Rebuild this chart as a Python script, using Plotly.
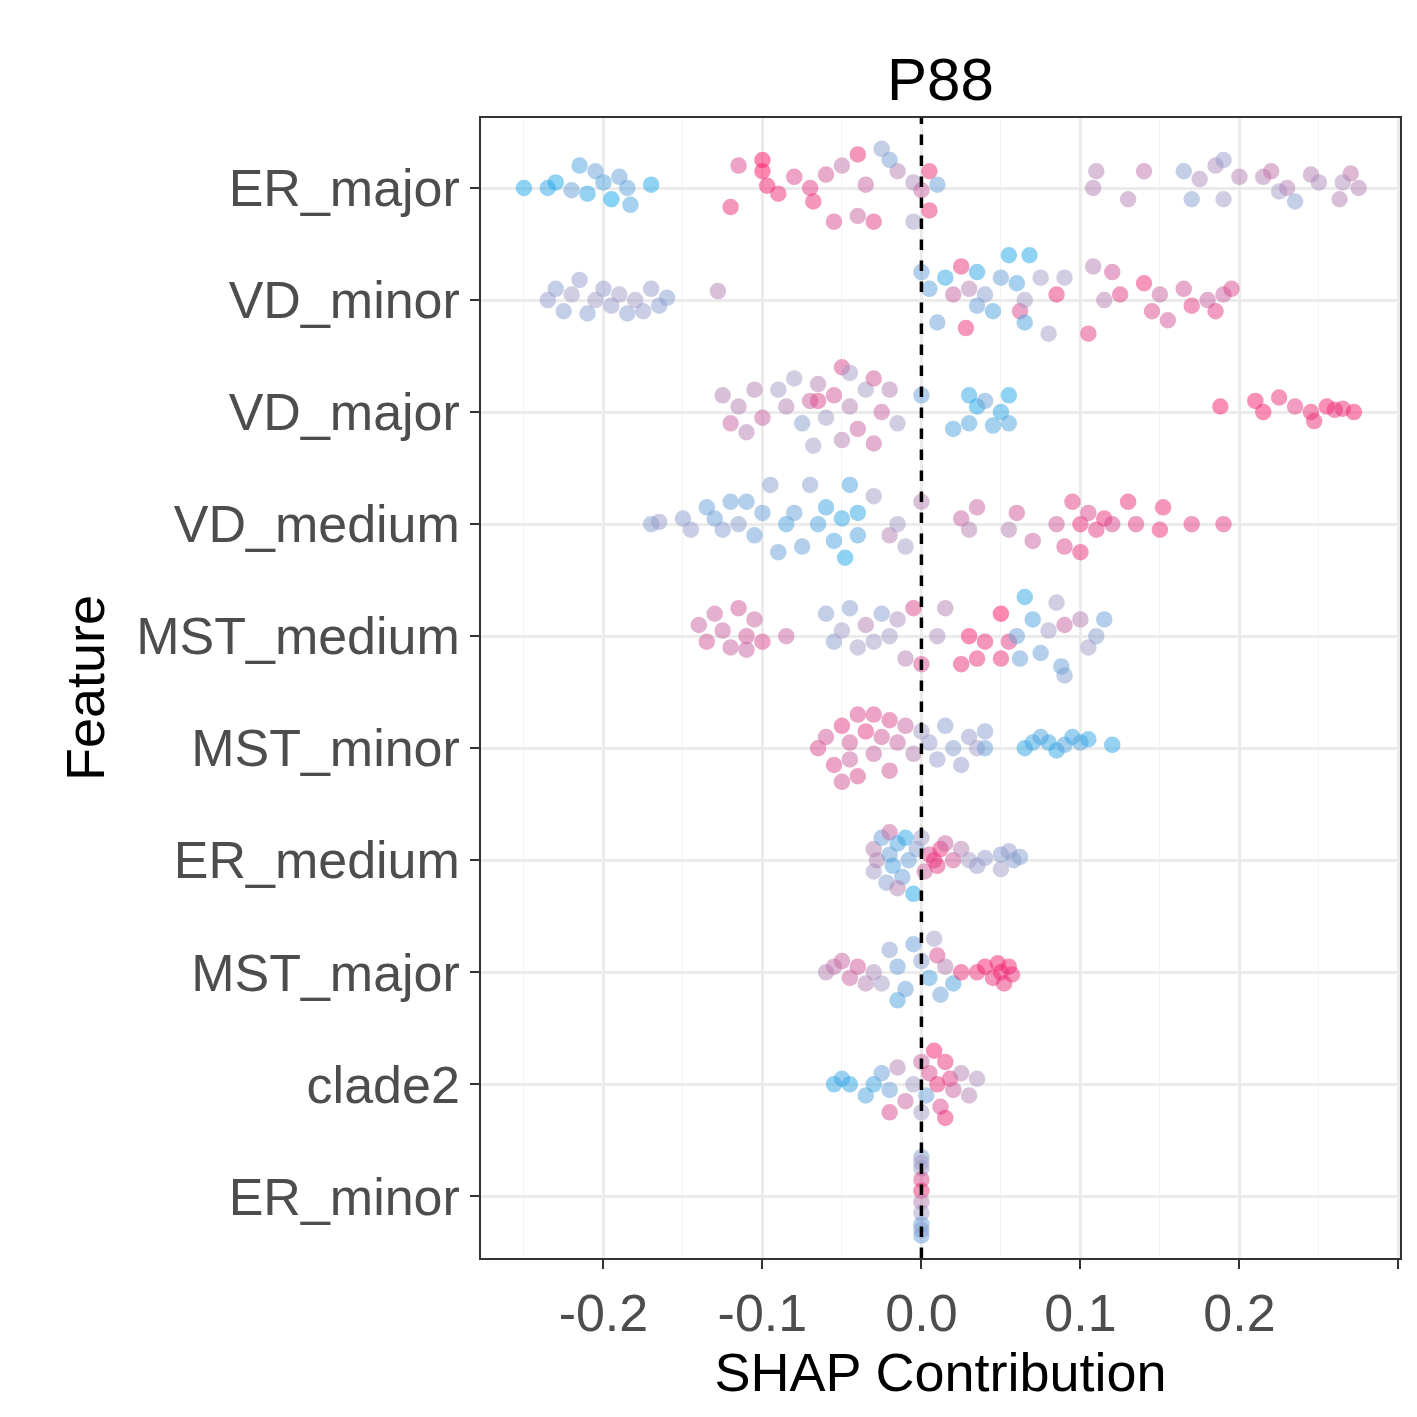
import plotly.graph_objects as go

features = ["ER_minor", "clade2", "MST_major", "ER_medium", "MST_minor",
            "MST_medium", "VD_medium", "VD_major", "VD_minor", "ER_major"]

# (shap value, vertical jitter, feature value 0..1)
er_major = [(-0.25,0.0,0.05),(-0.235,0.0,0.1),(-0.23,0.05,0.05),(-0.215,0.2,0.2),(-0.21,-0.05,0.1),
            (-0.205,0.15,0.3),(-0.2,0.05,0.2),(-0.195,-0.1,0.0),(-0.19,0.1,0.3),(-0.185,0.0,0.25),
            (-0.183,-0.15,0.2),(-0.17,0.03,0.05),(-0.22,-0.02,0.3),(-0.12,-0.17,0.9),(-0.115,0.2,0.8),
            (-0.1,0.25,1),(-0.1,0.15,1),(-0.097,0.02,0.95),(-0.09,-0.05,0.9),(-0.08,0.1,0.8),
            (-0.07,0.0,0.85),(-0.068,-0.12,0.9),(-0.06,0.12,0.75),(-0.055,-0.3,0.8),(-0.05,0.2,0.65),
            (-0.04,0.3,0.9),(-0.04,-0.25,0.7),(-0.035,0.03,0.7),(-0.03,-0.3,0.85),(-0.015,0.15,0.6),
            (-0.005,0.05,0.55),(0.0,-0.02,0.7),(-0.02,0.25,0.35),(-0.025,0.35,0.4),(-0.005,-0.3,0.5),
            (0.005,0.15,0.9),(0.01,0.03,0.3),(0.005,-0.2,0.9),(0.108,0.0,0.6),(0.11,0.15,0.6),
            (0.13,-0.1,0.6),(0.14,0.15,0.65),(0.165,0.15,0.4),(0.17,-0.1,0.4),(0.175,0.08,0.55),
            (0.19,-0.1,0.5),(0.185,0.2,0.55),(0.19,0.25,0.45),(0.2,0.1,0.6),(0.215,0.1,0.6),
            (0.22,0.15,0.65),(0.225,-0.03,0.5),(0.23,0.0,0.6),(0.235,-0.12,0.4),(0.245,0.12,0.6),
            (0.25,0.05,0.55),(0.263,-0.1,0.6),(0.27,0.13,0.65),(0.275,0.0,0.6),(0.265,0.05,0.55)]
vd_minor = [(-0.235,0.0,0.45),(-0.23,0.1,0.4),(-0.225,-0.1,0.4),(-0.22,0.05,0.5),(-0.215,0.18,0.45),
            (-0.21,-0.12,0.4),(-0.205,0.0,0.5),(-0.2,0.1,0.45),(-0.195,-0.05,0.45),(-0.19,0.05,0.5),
            (-0.185,-0.12,0.4),(-0.18,0.0,0.5),(-0.17,0.1,0.45),(-0.165,-0.05,0.4),(-0.16,0.02,0.4),
            (-0.175,-0.1,0.45),(-0.128,0.08,0.6),(0.0,0.25,0.3),(0.005,0.1,0.25),(0.01,-0.2,0.3),
            (0.015,0.2,0.1),(0.02,0.05,0.7),(0.025,0.3,0.9),(0.028,-0.25,0.9),(0.03,0.1,0.6),
            (0.035,0.25,0.1),(0.035,-0.05,0.3),(0.04,0.05,0.4),(0.045,-0.1,0.2),(0.05,0.2,0.3),
            (0.055,0.4,0.05),(0.06,0.15,0.2),(0.062,-0.1,0.8),(0.065,0.0,0.5),(0.065,-0.2,0.2),
            (0.068,0.4,0.05),(0.075,0.2,0.5),(0.08,-0.3,0.5),(0.085,0.05,0.9),(0.09,0.2,0.5),
            (0.105,-0.3,0.85),(0.108,0.3,0.6),(0.115,0.0,0.6),(0.12,0.25,0.75),(0.125,0.05,0.85),
            (0.14,0.15,0.9),(0.145,-0.1,0.8),(0.15,0.05,0.7),(0.155,-0.18,0.75),(0.165,0.1,0.75),
            (0.17,-0.05,0.85),(0.18,0.0,0.7),(0.185,-0.1,0.85),(0.19,0.05,0.7),(0.195,0.1,0.8)]
vd_major = [(-0.125,0.15,0.6),(-0.12,-0.1,0.7),(-0.115,0.05,0.6),(-0.11,-0.18,0.6),(-0.105,0.2,0.6),
            (-0.1,-0.05,0.7),(-0.09,0.2,0.5),(-0.085,0.05,0.6),(-0.08,0.3,0.5),(-0.075,-0.1,0.4),
            (-0.07,0.1,0.7),(-0.068,-0.3,0.5),(-0.065,0.25,0.6),(-0.06,-0.05,0.5),(-0.055,0.15,0.75),
            (-0.05,0.4,0.8),(-0.05,-0.25,0.6),(-0.045,0.05,0.6),(-0.04,-0.15,0.7),(-0.035,0.2,0.5),
            (-0.03,0.3,0.75),(-0.025,0.0,0.7),(-0.02,0.2,0.6),(-0.015,-0.1,0.5),(-0.065,0.1,0.8),
            (-0.045,0.35,0.5),(-0.03,-0.28,0.7),(0.0,0.15,0.3),(0.02,-0.15,0.2),(0.03,0.15,0.1),
            (0.03,-0.1,0.2),(0.035,0.05,0.05),(0.04,0.1,0.3),(0.045,-0.12,0.2),(0.05,0.0,0.1),
            (0.055,0.15,0.05),(0.055,-0.1,0.2),(0.188,0.05,0.95),(0.21,0.1,0.95),(0.215,0.0,0.95),
            (0.225,0.13,0.9),(0.235,0.05,0.85),(0.245,0.0,0.9),(0.247,-0.08,0.9),(0.255,0.05,0.95),
            (0.26,0.02,0.9),(0.265,0.03,0.9),(0.272,0.0,0.95)]
vd_medium = [(-0.17,0.0,0.4),(-0.165,0.02,0.45),(-0.15,0.05,0.4),(-0.145,-0.05,0.45),(-0.135,0.15,0.3),
             (-0.13,0.05,0.3),(-0.125,-0.05,0.4),(-0.12,0.2,0.3),(-0.115,0.0,0.4),(-0.11,0.2,0.3),
             (-0.105,-0.1,0.3),(-0.1,0.1,0.3),(-0.095,0.35,0.4),(-0.09,-0.25,0.3),(-0.085,0.0,0.2),
             (-0.08,0.1,0.3),(-0.075,-0.2,0.3),(-0.07,0.35,0.4),(-0.065,0.0,0.2),(-0.06,0.15,0.15),
             (-0.055,-0.15,0.2),(-0.05,0.05,0.1),(-0.048,-0.3,0.05),(-0.045,0.35,0.2),(-0.04,0.1,0.1),
             (-0.04,-0.1,0.2),(-0.03,0.25,0.5),(-0.02,-0.1,0.6),(-0.015,0.0,0.5),(-0.01,-0.2,0.5),
             (0.0,0.2,0.6),(0.025,0.05,0.7),(0.03,-0.05,0.6),(0.035,0.15,0.7),(0.055,-0.05,0.6),
             (0.06,0.1,0.75),(0.07,-0.15,0.7),(0.085,0.0,0.75),(0.09,-0.2,0.8),(0.095,0.2,0.85),
             (0.1,0.0,0.9),(0.1,-0.25,0.9),(0.105,0.1,0.8),(0.11,-0.05,0.85),(0.115,0.05,0.9),
             (0.12,0.0,0.8),(0.13,0.2,0.9),(0.135,0.0,0.85),(0.15,-0.05,0.9),(0.152,0.15,0.9),
             (0.17,0.0,0.85),(0.19,0.0,0.85)]
mst_medium = [(-0.14,0.1,0.7),(-0.135,-0.05,0.75),(-0.13,0.2,0.7),(-0.125,0.05,0.7),(-0.12,-0.1,0.7),
              (-0.115,0.25,0.75),(-0.11,0.0,0.75),(-0.105,0.15,0.7),(-0.1,-0.05,0.8),(-0.11,-0.12,0.7),
              (-0.085,0.0,0.7),(-0.06,0.2,0.4),(-0.055,-0.05,0.4),(-0.05,0.05,0.5),(-0.045,0.25,0.4),
              (-0.04,-0.1,0.5),(-0.035,0.1,0.6),(-0.03,-0.05,0.5),(-0.025,0.2,0.4),(-0.02,0.0,0.5),
              (-0.015,0.15,0.55),(-0.01,-0.2,0.6),(-0.005,0.25,0.8),(0.0,-0.25,0.8),(0.01,0.0,0.55),
              (0.015,0.25,0.6),(0.025,-0.25,0.9),(0.03,0.0,0.95),(0.035,-0.2,0.9),(0.04,-0.05,0.9),
              (0.05,0.2,1.0),(0.05,-0.2,0.9),(0.055,-0.05,0.85),(0.06,0.0,0.3),(0.062,-0.2,0.3),
              (0.065,0.35,0.1),(0.07,0.15,0.2),(0.075,-0.15,0.3),(0.08,0.05,0.5),(0.085,0.3,0.5),
              (0.09,0.1,0.7),(0.09,-0.35,0.4),(0.1,0.15,0.6),(0.105,-0.1,0.5),(0.11,0.0,0.4),
              (0.115,0.15,0.3),(0.088,-0.27,0.3)]
mst_minor = [(-0.065,0.0,0.8),(-0.06,0.1,0.75),(-0.055,-0.15,0.8),(-0.05,0.2,0.85),(-0.045,0.05,0.75),
             (-0.045,-0.1,0.7),(-0.04,-0.25,0.8),(-0.035,0.15,0.85),(-0.03,0.3,0.8),(-0.03,-0.05,0.7),
             (-0.025,0.1,0.75),(-0.02,0.25,0.8),(-0.02,-0.2,0.75),(-0.015,0.05,0.7),(-0.01,0.2,0.7),
             (-0.005,-0.05,0.6),(0.0,0.15,0.5),(0.005,0.05,0.45),(0.01,-0.1,0.45),(0.015,0.2,0.4),
             (0.02,0.0,0.4),(0.025,-0.15,0.45),(0.03,0.1,0.45),(0.035,0.0,0.5),(0.04,0.15,0.4),
             (0.04,0.0,0.3),(0.065,0.0,0.1),(0.07,0.05,0.15),(0.075,0.1,0.2),(0.08,0.05,0.15),
             (0.085,-0.02,0.1),(0.09,0.03,0.2),(0.095,0.1,0.15),(0.1,0.05,0.2),(0.105,0.08,0.1),
             (0.12,0.03,0.1),(-0.05,-0.3,0.75),(-0.04,0.3,0.8)]
er_medium = [(-0.03,0.1,0.6),(-0.03,-0.1,0.5),(-0.028,0.0,0.6),(-0.025,0.2,0.3),(-0.022,-0.2,0.4),
             (-0.02,0.25,0.7),(-0.02,0.05,0.3),(-0.018,-0.05,0.2),(-0.015,0.15,0.2),(-0.012,-0.15,0.3),
             (-0.01,0.2,0.1),(-0.008,0.0,0.3),(-0.005,-0.3,0.05),(-0.003,0.1,0.4),(0.0,0.2,0.5),
             (0.002,-0.1,0.7),(0.005,0.05,0.8),(0.008,0.0,0.9),(0.01,-0.05,0.85),(0.012,0.1,0.9),
             (0.015,0.15,0.7),(0.02,0.0,0.75),(0.025,0.1,0.6),(0.03,0.0,0.5),(0.035,-0.05,0.45),
             (0.04,0.02,0.45),(0.05,0.05,0.4),(0.055,0.08,0.45),(0.058,0.0,0.4),(0.062,0.03,0.4),
             (0.05,-0.08,0.5),(-0.015,-0.25,0.6)]
mst_major = [(-0.06,0.0,0.6),(-0.055,0.05,0.65),(-0.05,0.1,0.7),(-0.045,-0.05,0.7),(-0.04,0.05,0.75),
             (-0.035,-0.1,0.6),(-0.03,0.0,0.55),(-0.025,-0.1,0.5),(-0.02,0.2,0.4),(-0.015,0.05,0.3),
             (-0.01,-0.15,0.3),(-0.005,0.25,0.3),(0.0,0.1,0.4),(0.005,-0.05,0.2),(0.01,0.15,0.8),
             (0.012,-0.2,0.3),(0.015,0.05,0.6),(0.02,-0.1,0.2),(0.008,0.3,0.5),(-0.015,-0.25,0.2),
             (0.035,0.0,0.9),(0.04,0.05,0.95),(0.045,-0.05,0.9),(0.048,0.08,0.95),(0.05,0.0,0.95),
             (0.052,-0.1,0.9),(0.055,0.05,0.95),(0.057,-0.02,0.9),(0.025,0.0,0.9)]
clade2 = [(-0.055,0.0,0.1),(-0.05,0.05,0.15),(-0.045,0.0,0.1),(-0.035,-0.1,0.2),(-0.03,0.0,0.15),
          (-0.025,0.1,0.3),(-0.02,-0.05,0.3),(-0.015,0.15,0.6),(-0.01,-0.15,0.7),(-0.005,0.0,0.5),
          (0.0,0.2,0.7),(0.003,-0.1,0.3),(0.005,0.1,0.8),(0.008,0.3,0.95),(0.01,0.0,0.9),
          (0.012,-0.2,0.8),(0.015,0.2,0.9),(0.018,0.05,0.85),(0.02,-0.05,0.7),(0.025,0.1,0.6),
          (0.03,-0.1,0.6),(0.035,0.05,0.55),(-0.02,-0.25,0.8),(0.0,-0.25,0.5),(0.015,-0.3,0.9)]
er_minor = [(0.0,0.35,0.4),(0.0,0.25,0.45),(0.0,0.15,0.8),(0.0,0.05,0.9),(0.0,-0.05,0.6),
            (0.0,-0.15,0.5),(0.0,-0.25,0.3),(0.0,-0.35,0.3),(0.0,0.3,0.5),(0.0,-0.3,0.4)]

rows = [er_minor, clade2, mst_major, er_medium, mst_minor,
        mst_medium, vd_medium, vd_major, vd_minor, er_major]

xs, ys, cs = [], [], []
for i, pts in enumerate(rows):
    for x, j, c in pts:
        xs.append(x)
        ys.append(i + j)
        cs.append(c)

scale = [[0, "#12A9EF"], [0.5, "#A59CC9"], [1, "#FF1466"]]
fig = go.Figure(go.Scatter(
    x=xs, y=ys, mode="markers", cliponaxis=True,
    marker=dict(size=14, color=cs, cmin=0, cmax=1, opacity=0.5, colorscale=scale,
                line=dict(width=2.5, color=cs, cmin=0, cmax=1, colorscale=scale))))

fig.add_shape(type="line", x0=0, x1=0, y0=0, y1=1, yref="paper",
              line=dict(color="black", width=3.5, dash="dash"))

fig.update_layout(
    width=1417, height=1417, plot_bgcolor="white", paper_bgcolor="white",
    margin=dict(l=473, r=25, t=110, b=167, autoexpand=False), showlegend=False,
    font=dict(family="Liberation Sans, Arial", size=52, color="#4d4d4d"),
    title=dict(text="P88", x=0.658, xanchor="center", y=0.965, font=dict(size=60, color="black")))
fig.update_xaxes(range=[-0.277, 0.301], tickvals=[-0.2, -0.1, 0, 0.1, 0.2, 0.3],
                 ticktext=["-0.2", "-0.1", "0.0", "0.1", "0.2", "0.3"], automargin=False,
                 gridcolor="#ebebeb", gridwidth=2.5, zeroline=False,
                 minor=dict(dtick=0.05, tick0=0, gridcolor="#f3f3f3", gridwidth=1.2, showgrid=True),
                 ticks="outside", ticklen=9, tickwidth=2, tickcolor="#333",
                 showline=True, linecolor="#333", linewidth=1.5, mirror=True,
                 title=dict(text="SHAP Contribution", font=dict(color="black", size=54), standoff=6))
fig.update_yaxes(range=[-0.55, 9.625], tickvals=list(range(10)), ticktext=features, automargin=False,
                 gridcolor="#ebebeb", gridwidth=2.5, zeroline=False,
                 ticks="outside", ticklen=9, tickwidth=2, tickcolor="#333",
                 showline=True, linecolor="#333", linewidth=1.5, mirror=True,
                 title=dict(text="Feature", font=dict(color="black", size=54), standoff=14))

fig.write_html("out.html")
